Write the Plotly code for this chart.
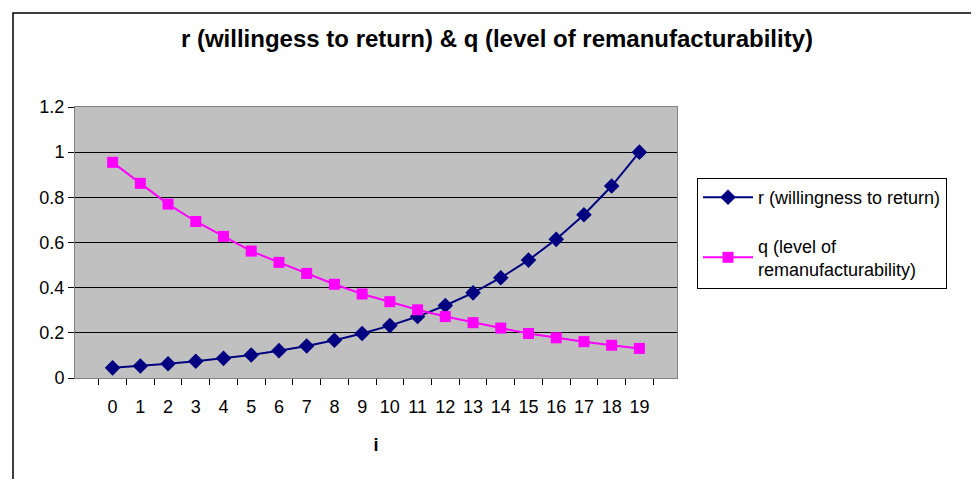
import plotly.graph_objects as go

# data
i_vals = [str(k) for k in range(20)]
r_vals = [0.045, 0.053, 0.063, 0.074, 0.087, 0.102, 0.121, 0.142, 0.167, 0.197,
          0.232, 0.272, 0.321, 0.377, 0.444, 0.522, 0.614, 0.723, 0.85, 1.0]
q_vals = [0.955, 0.862, 0.77, 0.693, 0.627, 0.562, 0.512, 0.463, 0.415, 0.372,
          0.338, 0.302, 0.272, 0.245, 0.221, 0.197, 0.178, 0.161, 0.145, 0.131]
y_ticks = [0, 0.2, 0.4, 0.6, 0.8, 1, 1.2]

FONT = "Liberation Sans, Arial, sans-serif"

fig = go.Figure()
fig.add_trace(go.Scatter(
    x=i_vals, y=r_vals, mode="lines+markers", name="r (willingness to return)",
    line=dict(color="#000080", width=2),
    marker=dict(symbol="diamond", size=12, color="#000080"),
    legendgroup="r"))
fig.add_trace(go.Scatter(
    x=i_vals, y=q_vals, mode="lines+markers", name="q (level of<br>remanufacturability)",
    line=dict(color="#FF00FF", width=2),
    marker=dict(symbol="square", size=11, color="#FF00FF"),
    legendgroup="q"))

# page has an 8px body margin; positions below are page pixels
OFF = 8
L, R, T, B = 75, 677, 107, 378
W, H = 979 - 2 * OFF, 487 - 2 * OFF
pw, ph = R - L, B - T


def px(x):
    return (x - L) / pw


def py(y):
    return (B - y) / ph


fig.update_layout(
    width=W, height=H,
    margin=dict(l=L - OFF, r=W - (R - OFF), t=T - OFF, b=H - (B - OFF)),
    paper_bgcolor="white", plot_bgcolor="#C0C0C0",
    font=dict(family=FONT, size=18, color="black"),
    title=dict(text="<b>r (willingess to return) & q (level of remanufacturability)</b>",
               x=(497 - OFF) / W, xanchor="center", y=1 - (39 - OFF) / H, yanchor="middle",
               font=dict(family=FONT, size=24, color="black")),
    showlegend=True,
    legend=dict(x=px(697), y=py(178), xanchor="left", yanchor="top",
                bordercolor="black", borderwidth=1, bgcolor="white",
                font=dict(family=FONT, size=18), tracegroupgap=22,
                traceorder="grouped", itemwidth=50),
    shapes=[dict(type="rect", xref="paper", yref="paper",
                 x0=px(13), x1=px(995), y0=py(500), y1=py(13),
                 line=dict(color="black", width=1.5), layer="below")],
)
fig.update_xaxes(
    type="category", tickson="boundaries", ticks="outside", ticklen=6,
    tickcolor="black", showline=True, linecolor="#808080", mirror=True,
    showgrid=False, tickangle=0, ticklabelstandoff=12,
    title=dict(text="<b>i</b>", font=dict(size=18), standoff=22),
    tickfont=dict(size=18))
fig.update_yaxes(
    range=[0, 1.2], tickvals=y_ticks, ticks="outside", ticklen=6, tickcolor="black",
    showline=True, linecolor="#808080", mirror=True, showgrid=True,
    gridcolor="black", gridwidth=1, zeroline=False, tickfont=dict(size=18))

fig.write_html("out.html")
